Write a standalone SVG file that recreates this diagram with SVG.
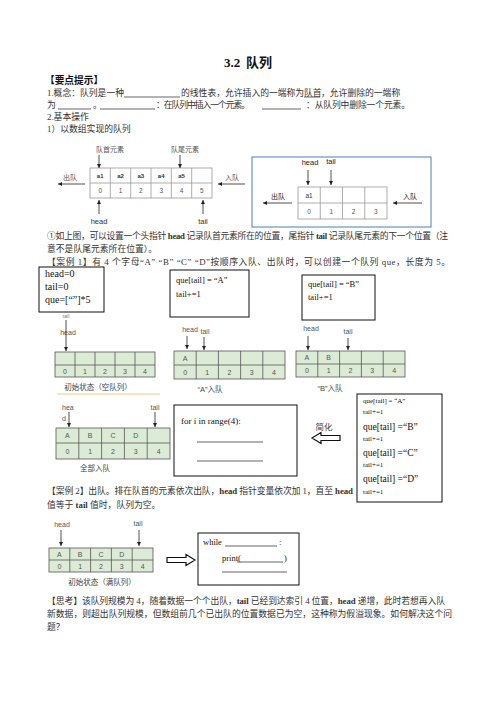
<svg xmlns="http://www.w3.org/2000/svg" width="496" height="702" viewBox="0 0 496 702">
<defs>
<marker id="ah" viewBox="0 0 6 6" refX="6" refY="3" markerWidth="4" markerHeight="4" markerUnits="userSpaceOnUse" orient="auto"><path d="M0,0 L6,3 L0,6 z" fill="#222"/></marker>
<style>
.t{font-family:'Liberation Serif','Noto Sans CJK SC',serif;font-size:8.8px;fill:#333}
.b{font-weight:bold}
.d{font-family:'Liberation Sans','Noto Sans CJK SC',sans-serif;font-size:7px;fill:#555}
.dc{font-family:'Liberation Sans','Noto Sans CJK SC',sans-serif;font-size:7px;fill:#555;text-anchor:middle}
.dl{font-family:'Liberation Sans','Noto Sans CJK SC',sans-serif;font-size:7.5px;fill:#444;text-anchor:middle}
.g{fill:#dcebd6;stroke:#555;stroke-width:0.8}
.gl{stroke:#555;stroke-width:0.8}
.w{fill:#fff;stroke:#999;stroke-width:0.8}
.wl{stroke:#999;stroke-width:0.8}
.arr{stroke:#222;stroke-width:0.8;fill:none;marker-end:url(#ah)}
.box{fill:#fff;stroke:#111;stroke-width:1}
.code{font-family:'Liberation Serif',serif;fill:#111}
.ul{stroke:#222;stroke-width:0.7}
</style>
</defs>
<rect width="496" height="702" fill="#fff"/>

<g id="header-text">
<text y="67" style="font-family:'Liberation Serif','Noto Sans CJK SC',serif;font-size:13px;font-weight:bold;fill:#111"><tspan x="224">3.2</tspan><tspan x="246">队列</tspan></text>
<text x="45" y="84" class="t b" style="font-size:9.7px;fill:#111">【要点提示】</text>
<text x="47" y="96" class="t">1.概念：队列是一种</text>
<line x1="124" y1="97" x2="180" y2="97" class="ul"/>
<text x="181" y="96" class="t">的线性表，允许插入的一端称为</text>
<text x="304" y="96" class="t">队首</text>
<line x1="304" y1="97" x2="320" y2="97" class="ul"/>
<text x="321" y="96" class="t">，允许删除的一端称</text>
<text x="47" y="108" class="t">为</text>
<line x1="58" y1="109" x2="91" y2="109" class="ul"/>
<text x="93" y="108" class="t">。</text>
<line x1="100" y1="109" x2="155" y2="109" class="ul"/>
<text x="156" y="108" class="t" textLength="94">：在队列中插入一个元素。</text>
<line x1="262" y1="109" x2="301" y2="109" class="ul"/>
<text x="306" y="108" class="t" textLength="104">：从队列中删除一个元素。</text>
<text x="47" y="120" class="t">2.基本操作</text>
<text x="47" y="132" class="t">1）以数组实现的队列</text>
</g>

<g id="array-queue">
<text x="110" y="152" class="dc">队首元素</text>
<text x="185" y="152" class="dc">队尾元素</text>
<rect x="90" y="168" width="122" height="30" class="w"/>
<line x1="90" y1="183" x2="212" y2="183" class="wl"/>
<line x1="110.3" y1="168" x2="110.3" y2="198" class="wl"/>
<line x1="130.7" y1="168" x2="130.7" y2="198" class="wl"/>
<line x1="151" y1="168" x2="151" y2="198" class="wl"/>
<line x1="171.3" y1="168" x2="171.3" y2="198" class="wl"/>
<line x1="191.7" y1="168" x2="191.7" y2="198" class="wl"/>
<g class="dc" style="font-size:6px;font-weight:bold;fill:#333">
<text x="100.2" y="178">a1</text><text x="120.5" y="178">a2</text><text x="140.8" y="178">a3</text><text x="161.2" y="178">a4</text><text x="181.5" y="178">a5</text>
</g>
<g class="dc" style="font-size:6.5px">
<text x="100.2" y="193">0</text><text x="120.5" y="193">1</text><text x="140.8" y="193">2</text><text x="161.2" y="193">3</text><text x="181.5" y="193">4</text><text x="201.8" y="193">5</text>
</g>
<text x="70" y="180" class="dc">出队</text>
<text x="232" y="180" class="dc">入队</text>
<text x="99" y="224" class="dc" style="font-size:7.5px;fill:#333">head</text>
<text x="203" y="224" class="dc" style="font-size:7.5px;fill:#333">tail</text>
</g>

<g id="array-queue-2">
<rect x="252" y="157" width="179" height="70" fill="#fff" stroke="#4a7ebb" stroke-width="1"/>
<text x="310" y="165" class="dc" style="font-size:7.5px;fill:#222">head</text>
<text x="331" y="164" class="dc" style="font-size:7.5px;fill:#222">tail</text>
<rect x="298" y="187" width="89" height="32" class="w"/>
<line x1="298" y1="203" x2="387" y2="203" class="wl"/>
<line x1="320.25" y1="187" x2="320.25" y2="219" class="wl"/>
<line x1="342.5" y1="187" x2="342.5" y2="219" class="wl"/>
<line x1="364.75" y1="187" x2="364.75" y2="219" class="wl"/>
<text x="309.1" y="197.5" class="dc" style="font-size:6.5px;fill:#333">a1</text>
<g class="dc" style="font-size:6.5px">
<text x="309.1" y="213.5">0</text><text x="331.4" y="213.5">1</text><text x="353.6" y="213.5">2</text><text x="375.9" y="213.5">3</text>
</g>
<text x="278" y="199" class="dc" style="fill:#222">出队</text>
<text x="410" y="199" class="dc" style="fill:#222">入队</text>
</g>

<g id="para-1">
<text x="47" y="239" class="t" textLength="401">①如上图，可以设置一个头指针 <tspan class="b">head</tspan> 记录队首元素所在的位置，尾指针 <tspan class="b">tail</tspan> 记录队尾元素的下一个位置（注</text>
<text x="47" y="252" class="t">意不是队尾元素所在位置）。</text>
<text x="47" y="265" class="t" textLength="403">【案例 1】有 4 个字母“A” “B” “C” “D”按顺序入队、出队时，可以创建一个队列 que，长度为 5。</text>
</g>

<g id="init-code">
<rect x="39" y="267" width="65" height="45" class="box"/>
<text x="45" y="277" class="code" style="font-size:10px">head=0</text>
<text x="45" y="290" class="code" style="font-size:10px">tail=0</text>
<text x="45" y="303" class="code" style="font-size:10px">que=[“”]*5</text>
</g>

<g id="enqueue-a-code">
<rect x="170" y="270" width="79" height="47" class="box"/>
<text x="176" y="283" class="code" style="font-size:8.5px">que[tail] = “A”</text>
<text x="176" y="297" class="code" style="font-size:8.5px">tail+=1</text>
</g>

<g id="enqueue-b-code">
<rect x="302" y="275" width="73" height="45" class="box"/>
<text x="308" y="287" class="code" style="font-size:8.5px">que[tail] = “B”</text>
<text x="308" y="300" class="code" style="font-size:8.5px">tail+=1</text>
</g>

<g id="queue-empty">
<text x="66" y="318" class="dc" style="font-size:5.5px;fill:#6a86a8">tail</text>
<text x="68" y="335" class="dc">head</text>
<rect x="55" y="352" width="100" height="25" class="g"/>
<line x1="55" y1="365" x2="155" y2="365" class="gl"/>
<line x1="75" y1="352" x2="75" y2="377" class="gl"/>
<line x1="95" y1="352" x2="95" y2="377" class="gl"/>
<line x1="115" y1="352" x2="115" y2="377" class="gl"/>
<line x1="135" y1="352" x2="135" y2="377" class="gl"/>
<g class="dc"><text x="65" y="373.5">0</text><text x="85" y="373.5">1</text><text x="105" y="373.5">2</text><text x="125" y="373.5">3</text><text x="145" y="373.5">4</text></g>
<text x="98" y="390" class="dl">初始状态（空队列）</text>
<line x1="57" y1="394" x2="160" y2="394" stroke="#f5c87c" stroke-width="1"/>
</g>

<g id="queue-a">
<text x="190" y="332" class="dc">head</text>
<text x="205" y="334" class="dc">tail</text>
<rect x="174" y="351" width="111" height="28" class="g"/>
<line x1="174" y1="365" x2="285" y2="365" class="gl"/>
<line x1="196.2" y1="351" x2="196.2" y2="379" class="gl"/>
<line x1="218.4" y1="351" x2="218.4" y2="379" class="gl"/>
<line x1="240.6" y1="351" x2="240.6" y2="379" class="gl"/>
<line x1="262.8" y1="351" x2="262.8" y2="379" class="gl"/>
<text x="185.1" y="360.5" class="dc">A</text>
<g class="dc"><text x="185.1" y="374.5">0</text><text x="207.3" y="374.5">1</text><text x="229.5" y="374.5">2</text><text x="251.7" y="374.5">3</text><text x="273.9" y="374.5">4</text></g>
<text x="210" y="392" class="dl">“A”入队</text>
</g>

<g id="queue-b">
<text x="311" y="331" class="dc">head</text>
<text x="348" y="334" class="dc">tail</text>
<rect x="296" y="351" width="109" height="26" class="g"/>
<line x1="296" y1="364" x2="405" y2="364" class="gl"/>
<line x1="317.8" y1="351" x2="317.8" y2="377" class="gl"/>
<line x1="339.6" y1="351" x2="339.6" y2="377" class="gl"/>
<line x1="361.4" y1="351" x2="361.4" y2="377" class="gl"/>
<line x1="383.2" y1="351" x2="383.2" y2="377" class="gl"/>
<text x="306.9" y="360" class="dc">A</text><text x="328.7" y="360" class="dc">B</text>
<g class="dc"><text x="306.9" y="373">0</text><text x="328.7" y="373">1</text><text x="350.5" y="373">2</text><text x="372.3" y="373">3</text><text x="394.1" y="373">4</text></g>
<text x="330" y="391" class="dl">“B”入队</text>
</g>

<g id="full-code">
<rect x="357" y="394" width="85" height="108" class="box"/>
<text x="363" y="403" class="code" style="font-size:7px">que[tail] = “A”</text>
<text x="363" y="414" class="code" style="font-size:7px">tail+=1</text>
<text x="363" y="430" class="code" style="font-size:9.5px">que[tail] =“B”</text>
<text x="363" y="441" class="code" style="font-size:7px">tail+=1</text>
<text x="363" y="456" class="code" style="font-size:9.5px">que[tail] =“C”</text>
<text x="363" y="467" class="code" style="font-size:7px">tail+=1</text>
<text x="363" y="482" class="code" style="font-size:9.5px">que[tail] =“D”</text>
<text x="363" y="494" class="code" style="font-size:7px">tail+=1</text>
</g>

<g id="queue-full">
<text x="62" y="410" class="d">hea</text>
<text x="62" y="421" class="d">d</text>
<text x="155" y="410" class="dc">tail</text>
<rect x="56" y="428" width="114" height="31" class="g"/>
<line x1="56" y1="443" x2="170" y2="443" class="gl"/>
<line x1="78.8" y1="428" x2="78.8" y2="459" class="gl"/>
<line x1="101.6" y1="428" x2="101.6" y2="459" class="gl"/>
<line x1="124.4" y1="428" x2="124.4" y2="459" class="gl"/>
<line x1="147.2" y1="428" x2="147.2" y2="459" class="gl"/>
<g class="dc"><text x="67.4" y="438">A</text><text x="90.2" y="438">B</text><text x="113" y="438">C</text><text x="135.8" y="438">D</text></g>
<g class="dc"><text x="67.4" y="453.5">0</text><text x="90.2" y="453.5">1</text><text x="113" y="453.5">2</text><text x="135.8" y="453.5">3</text><text x="158.6" y="453.5">4</text></g>
<text x="95" y="471" class="dl">全部入队</text>
</g>

<g id="for-code">
<rect x="174" y="405" width="123" height="71" class="box"/>
<text x="181" y="424" class="code" style="font-size:9px">for i in range(4):</text>
<line x1="197" y1="442" x2="263" y2="442" class="ul"/>
<line x1="197" y1="461" x2="263" y2="461" class="ul"/>
</g>

<g id="simplify-label">
<text x="324" y="430" text-anchor="middle" class="t" style="font-size:8.5px;fill:#444">简化</text>
</g>

<g id="para-2">
<text x="47" y="494" class="t" textLength="306">【案例 2】出队。排在队首的元素依次出队，<tspan class="b">head</tspan> 指针变量依次加 1，直至 <tspan class="b">head</tspan></text>
<text x="47" y="508" class="t">值等于 <tspan class="b">tail</tspan> 值时，队列为空。</text>
</g>

<g id="queue-full-2">
<text x="62" y="527" class="dc">head</text>
<text x="138" y="526" class="dc">tail</text>
<rect x="49" y="548" width="104" height="24" class="g"/>
<line x1="49" y1="560" x2="153" y2="560" class="gl"/>
<line x1="69.8" y1="548" x2="69.8" y2="572" class="gl"/>
<line x1="90.6" y1="548" x2="90.6" y2="572" class="gl"/>
<line x1="111.4" y1="548" x2="111.4" y2="572" class="gl"/>
<line x1="132.2" y1="548" x2="132.2" y2="572" class="gl"/>
<g class="dc"><text x="59.4" y="556.5">A</text><text x="80.2" y="556.5">B</text><text x="101" y="556.5">C</text><text x="121.8" y="556.5">D</text></g>
<g class="dc"><text x="59.4" y="568.5">0</text><text x="80.2" y="568.5">1</text><text x="101" y="568.5">2</text><text x="121.8" y="568.5">3</text><text x="142.6" y="568.5">4</text></g>
<text x="102" y="585" class="dl">初始状态（满队列）</text>
</g>

<g id="while-code">
<rect x="198" y="533" width="101" height="52" class="box"/>
<text x="203" y="545" class="code" style="font-size:8.5px">while</text>
<line x1="225" y1="546" x2="277" y2="546" class="ul"/>
<text x="279" y="545" class="code" style="font-size:8.5px">:</text>
<text x="222" y="561" class="code" style="font-size:8.5px">print(</text>
<line x1="237" y1="562" x2="283" y2="562" class="ul"/>
<text x="284" y="561" class="code" style="font-size:8.5px">)</text>
<line x1="222" y1="572" x2="287" y2="572" class="ul"/>
</g>

<g id="para-3">
<text x="47" y="604" class="t" textLength="398">【思考】该队列规模为 4，随着数据一个个出队，<tspan class="b">tail</tspan> 已经到达索引 4 位置，<tspan class="b">head</tspan> 递增，此时若想再入队</text>
<text x="47" y="617" class="t" textLength="405">新数据，则超出队列规模，但数组前几个已出队的位置数据已为空，这种称为假溢现象。如何解决这个问</text>
<text x="47" y="630" class="t">题？</text>
</g>

<g id="connectors">
<line x1="99" y1="155" x2="99" y2="168" class="arr"/>
<line x1="180" y1="155" x2="180" y2="168" class="arr"/>
<line x1="85" y1="184" x2="58" y2="184" class="arr"/>
<line x1="245" y1="184" x2="218" y2="184" class="arr"/>
<line x1="99" y1="214" x2="99" y2="200" class="arr"/>
<line x1="203" y1="214" x2="203" y2="200" class="arr"/>
<line x1="308" y1="170" x2="308" y2="185" class="arr"/>
<line x1="331" y1="170" x2="331" y2="185" class="arr"/>
<line x1="292" y1="203" x2="263" y2="203" class="arr"/>
<line x1="422" y1="203" x2="393" y2="203" class="arr"/>
<line x1="66" y1="320" x2="66" y2="351" class="arr"/>
<line x1="187" y1="336" x2="187" y2="349" class="arr"/>
<line x1="204" y1="337" x2="204" y2="350" class="arr"/>
<line x1="308" y1="336" x2="308" y2="350" class="arr"/>
<line x1="348" y1="338" x2="348" y2="350" class="arr"/>
<line x1="69" y1="412" x2="69" y2="427" class="arr"/>
<line x1="155" y1="412" x2="155" y2="427" class="arr"/>
<line x1="61" y1="530" x2="61" y2="546" class="arr"/>
<line x1="139" y1="530" x2="139" y2="546" class="arr"/>
<path d="M312,438 L321,432.5 L321,435.5 L340,435.5 L340,440.5 L321,440.5 L321,443.5 Z" fill="#fff" stroke="#111" stroke-width="1.2"/>
<path d="M195,560 L186,554.5 L186,557.5 L167,557.5 L167,562.5 L186,562.5 L186,565.5 Z" fill="#fff" stroke="#111" stroke-width="1.2"/>
</g>
</svg>
